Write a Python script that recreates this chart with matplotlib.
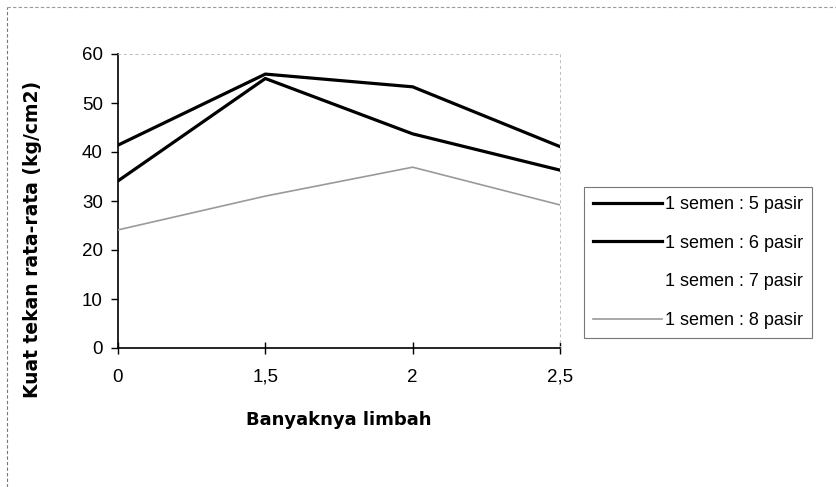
import matplotlib
matplotlib.use("Agg")
import matplotlib.pyplot as plt
from matplotlib.lines import Line2D
import numpy as np

plt.rcParams["font.family"] = ["Liberation Sans", "DejaVu Sans"]

categories = ["0", "1,5", "2", "2,5"]
pasir_5 = [41.4, 55.9, 53.3, 41.1]
pasir_6 = [34.1, 55.0, 43.7, 36.3]
pasir_7 = [np.nan, np.nan, np.nan, np.nan]  # seri ini tidak terlihat di gambar
pasir_8 = [24.1, 31.0, 36.9, 29.2]
labels = ["1 semen : 5 pasir", "1 semen : 6 pasir", "1 semen : 7 pasir", "1 semen : 8 pasir"]

fig = plt.figure(figsize=(8.37, 4.87), dpi=100)
ax = fig.add_axes([118 / 837, 1 - 348 / 487, (560 - 118) / 837, (348 - 54) / 487])

x = np.arange(len(categories))
ax.plot(x, pasir_5, color="black", lw=2.3, label=labels[0], zorder=4)
ax.plot(x, pasir_6, color="black", lw=2.3, label=labels[1], zorder=4)
ax.plot(x, pasir_7, color="white", lw=1.5, label=labels[2], zorder=2)
ax.plot(x, pasir_8, color="#9a9a9a", lw=1.2, label=labels[3], zorder=3)

ax.set_xlim(0, len(categories) - 1)
ax.set_ylim(0, 60)
ax.set_yticks(range(0, 61, 10))
ax.set_xticks(x)
ax.set_xticklabels(categories)

ax.tick_params(axis="y", direction="out", length=5, width=1, labelsize=13.5, pad=6)
ax.tick_params(axis="x", direction="inout", length=8, width=1, labelsize=13.5, pad=11)

for side in ["left", "bottom"]:
    ax.spines[side].set_color("black")
    ax.spines[side].set_linewidth(1.2)
for side in ["top", "right"]:
    ax.spines[side].set_color("#bbbbbb")
    ax.spines[side].set_linewidth(0.7)
    ax.spines[side].set_linestyle((0, (2, 4)))

fig.text(339 / 837, 1 - 420 / 487, "Banyaknya limbah", ha="center", va="center",
         fontsize=13, fontweight="bold", family="DejaVu Sans")
fig.text(33 / 837, 1 - 239 / 487, "Kuat tekan rata-rata (kg/cm2)", ha="center", va="center",
         rotation=90, fontsize=13.5, fontweight="bold", family="DejaVu Sans")

leg = fig.legend(loc="upper left", bbox_to_anchor=(584 / 837, 1 - 187 / 487),
                 bbox_transform=fig.transFigure, fontsize=13, frameon=True,
                 fancybox=False, borderaxespad=0, borderpad=0.5, labelspacing=1.2,
                 handlelength=3.8, handletextpad=0.2)
leg.get_frame().set_edgecolor("#555555")
leg.get_frame().set_linewidth(0.8)

# bingkai luar gambar (putus-putus)
fig.add_artist(Line2D([7 / 837, 7 / 837], [0, 1 - 7 / 487], transform=fig.transFigure,
                      color="#777777", lw=0.8, linestyle=(0, (3, 2))))
fig.add_artist(Line2D([7 / 837, 1], [1 - 7 / 487, 1 - 7 / 487], transform=fig.transFigure,
                      color="#999999", lw=0.8, linestyle=(0, (3, 2))))

fig.savefig("out.png", dpi=100)
